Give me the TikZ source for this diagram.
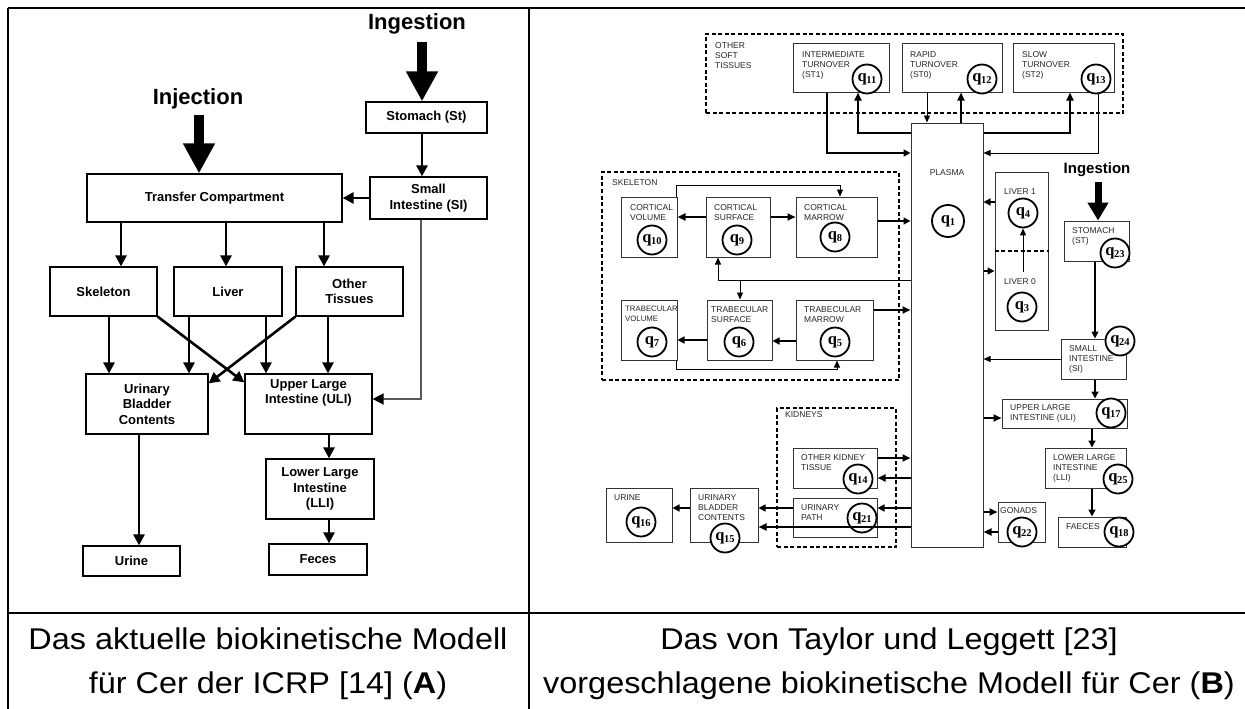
\documentclass[tikz,border=0pt]{standalone}
\usepackage{fontspec}
\setmainfont{Liberation Sans}
\newfontfamily\qfont{Liberation Serif}
\newfontfamily\capfont{Liberation Sans}[FakeStretch=1.08]
\usetikzlibrary{arrows.meta,calc}
\newcommand{\qlbl}[1]{{\qfont\bfseries\fontsize{16.5}{16.5}\selectfont q\kern-0.3pt\raisebox{-2.5pt}{\fontsize{10.5}{10.5}\selectfont #1}}}
\begin{document}
\begin{tikzpicture}[x=1pt,y=-1pt,
 abox/.style={draw, line width=1.2, inner sep=0, align=center, font=\fontsize{13}{15.5}\selectfont\bfseries},
 aarr/.style={line width=2.6, -{Triangle[length=11pt,width=11pt]}},
 agr/.style={line width=1.5, black!65, -{Triangle[length=11pt,width=11pt,color=black]}},
 bigA/.style={line width=10, -{Triangle[length=30pt,width=30pt]}},
 bigB/.style={line width=7, -{Triangle[length=18pt,width=20pt]}},
 ingA/.style={font=\fontsize{22}{22}\selectfont\bfseries, inner sep=0},
 ingB/.style={font=\fontsize{15}{15}\selectfont\bfseries, inner sep=0},
 bbox/.style={draw=black!80, line width=1, inner sep=0},
 grpframe/.style={draw, line width=1.4, dash pattern=on 4pt off 2.5pt, inner sep=0},
 btxt/.style={anchor=north west, inner sep=0, align=left, text=black!85, font=\fontsize{8.5}{10.2}\selectfont},
 bctr/.style={inner sep=0, text=black!85, font=\fontsize{8.5}{10.2}\selectfont},
 qc/.style={circle, draw, line width=1.8, fill=white, minimum size=29, inner sep=0},
 bth/.style={line width=0.9, -{Triangle[length=7pt,width=6pt]}},
 bmd/.style={line width=1.4, -{Triangle[length=7pt,width=7pt]}},
 btk/.style={line width=2.2, -{Triangle[length=8pt,width=7pt]}},
 captxt/.style={font=\capfont\fontsize{30}{30}\selectfont, inner sep=0, anchor=base}
]
\useasboundingbox (0,0) rectangle (1245,709);

% ---------- table ----------
\draw[line width=2] (8,8) -- (1245,8);
\draw[line width=2] (8,8) -- (8,709);
\draw[line width=2] (529,8) -- (529,709);
\draw[line width=2.6] (8,613) -- (1245,613);

% ---------- captions ----------
\node[captxt] (capA1) at (268,649) {Das aktuelle biokinetische Modell};
\node[captxt] (capA2) at (268,693) {für Cer der ICRP [14] (\textbf{A})};
\node[captxt] (capB1) at (889,649) {Das von Taylor und Leggett [23]};
\node[captxt] (capB2) at (889,693) {vorgeschlagene biokinetische Modell für Cer (\textbf{B})};

% =============== PANEL A ===============
\node[ingA] (ingAt) at (417,24) {Ingestion};
\node[ingA] (injAt) at (198,99) {Injection};
\coordinate (ingAs) at (422,42);
\coordinate (injAs) at (199,115);

\node[abox, minimum width=121, minimum height=31] (stA) at (426.5,117.5) {Stomach (St)};
\node[abox, minimum width=117, minimum height=42] (siA) at (428.5,198) {Small\\Intestine (SI)};
\node[abox, minimum width=255, minimum height=48] (tcA) at (214.5,198) {Transfer Compartment};
\node[abox, minimum width=107, minimum height=49] (skA) at (103.5,291.5) {Skeleton};
\node[abox, minimum width=108, minimum height=49] (lvA) at (228,291.5) {Liver};
\node[abox, minimum width=107, minimum height=49] (otA) at (349.5,291.5) {Other\\Tissues};
\node[abox, minimum width=122, minimum height=60] (ubA) at (147,404) {Urinary\\Bladder\\Contents};
\node[abox, minimum width=127, minimum height=60] (ulA) at (308.5,404) {Upper Large\\Intestine (ULI)\\[9pt]};
\node[abox, minimum width=108, minimum height=60] (llA) at (320,489) {Lower Large\\Intestine\\(LLI)};
\node[abox, minimum width=98, minimum height=31] (feA) at (318,559.5) {Feces};
\node[abox, minimum width=97, minimum height=30] (urA) at (131.5,561) {Urine};

\draw[bigA] (ingAs) -- (stA.north -| ingAs);
\draw[bigA] (injAs) -- (tcA.north -| injAs);
\draw[aarr] (stA.south -| ingAs) -- (siA.north -| ingAs);
\draw[aarr] (siA.west) -- (siA.west -| tcA.east);
\draw[aarr] (tcA.south -| 121,0) -- (skA.north -| 121,0);
\draw[aarr] (tcA.south -| 226,0) -- (lvA.north -| 226,0);
\draw[aarr] (tcA.south -| 324,0) -- (otA.north -| 324,0);
\draw[aarr] (skA.south -| 109,0) -- (ubA.north -| 109,0);
\draw[aarr] (lvA.south -| 189,0) -- (ubA.north -| 189,0);
\draw[aarr] (lvA.south -| 266,0) -- (ulA.north -| 266,0);
\draw[aarr] (otA.south -| 328,0) -- (ulA.north -| 328,0);
\draw[aarr] (skA.south east) -- ($(ulA.north west)+(0,9)$);
\draw[aarr] (otA.south west) -- ($(ubA.north east)+(0,10)$);
\draw[aarr] (ulA.south -| 329,0) -- (llA.north -| 329,0);
\draw[aarr] (llA.south -| 329,0) -- (feA.north -| 329,0);
\draw[aarr] (ubA.south -| 139,0) -- (urA.north -| 139,0);
\draw[agr] (siA.south -| 421,0) |- ([yshift=5]ulA.east);

% =============== PANEL B ===============
% frames
\node[grpframe, minimum width=417, minimum height=79] (fOST) at (914.5,73.5) {};
\node[grpframe, minimum width=297, minimum height=208] (fSK) at (750.5,276) {};
\node[grpframe, minimum width=119, minimum height=139] (fKI) at (836.5,477.5) {};
\node[btxt] (lOST) at (715,42) {OTHER\\SOFT\\TISSUES};
\node[btxt] (lSK) at (612,179) {SKELETON};
\node[btxt] (lKI) at (785,411) {KIDNEYS};

% boxes
\node[bbox, minimum width=96, minimum height=48] (st1) at (841,68) {};
\node[btxt] (st1t) at (802,51) {INTERMEDIATE\\TURNOVER\\(ST1)};
\node[bbox, minimum width=100, minimum height=48] (st0) at (952,68) {};
\node[btxt] (st0t) at (910,51) {RAPID\\TURNOVER\\(ST0)};
\node[bbox, minimum width=101, minimum height=48] (st2) at (1063.5,68) {};
\node[btxt] (st2t) at (1022,51) {SLOW\\TURNOVER\\(ST2)};

\node[bbox, minimum width=72, minimum height=424] (pl) at (947,335) {};
\node[bctr] (plt) at (947,173) {PLASMA};

\node[bbox, minimum width=56, minimum height=60] (cv) at (649,227) {};
\node[btxt] (cvt) at (630,204) {CORTICAL\\VOLUME};
\node[bbox, minimum width=64, minimum height=60] (cs) at (738,227) {};
\node[btxt] (cst) at (714,204) {CORTICAL\\SURFACE};
\node[bbox, minimum width=81, minimum height=60] (cm) at (836.5,227) {};
\node[btxt] (cmt) at (804,204) {CORTICAL\\MARROW};
\node[bbox, minimum width=56, minimum height=60] (tv) at (649,330) {};
\node[btxt, font=\fontsize{7.8}{10.2}\selectfont] (tvt) at (625,306) {TRABECULAR\\VOLUME};
\node[bbox, minimum width=65, minimum height=60] (ts) at (739.5,330) {};
\node[btxt] (tst) at (711,306) {TRABECULAR\\SURFACE};
\node[bbox, minimum width=77, minimum height=60] (tm) at (834.5,330) {};
\node[btxt] (tmt) at (804,306) {TRABECULAR\\MARROW};

\node[bbox, minimum width=53, minimum height=158] (lv) at (1021.5,251) {};
\draw[line width=1.2, dash pattern=on 4pt off 2.5pt] (lv.west) -- (lv.east);
\node[bctr] (lv1t) at (1020,192) {LIVER 1};
\node[bctr] (lv0t) at (1020,282) {LIVER 0};

\node[ingB] (ingBt) at (1097,170) {Ingestion};
\coordinate (ingBs) at (1098,182);
\node[bbox, minimum width=65, minimum height=40] (stB) at (1096.5,241) {};
\node[btxt] (stBt) at (1072,227) {STOMACH\\(ST)};
\node[bbox, minimum width=65, minimum height=40] (siB) at (1093.5,359) {};
\node[btxt] (siBt) at (1069,345) {SMALL\\INTESTINE\\(SI)};
\node[bbox, minimum width=125, minimum height=29] (ulB) at (1064.5,413.5) {};
\node[btxt] (ulBt) at (1010,404) {UPPER LARGE\\INTESTINE (ULI)};
\node[bbox, minimum width=81, minimum height=40] (llB) at (1085.5,468) {};
\node[btxt] (llBt) at (1053,454) {LOWER LARGE\\INTESTINE\\(LLI)};
\node[bbox, minimum width=68, minimum height=30] (fa) at (1092,532) {};
\node[btxt] (fat) at (1066,523) {FAECES};
\node[bbox, minimum width=47, minimum height=40] (go) at (1021.5,522) {};
\node[btxt] (got) at (1000,507) {GONADS};

\node[bbox, minimum width=84, minimum height=40] (okt) at (835,468) {};
\node[btxt] (oktt) at (801,454) {OTHER KIDNEY\\TISSUE};
\node[bbox, minimum width=84, minimum height=39] (up) at (835,517.5) {};
\node[btxt] (upt) at (801,504) {URINARY\\PATH};
\node[bbox, minimum width=68, minimum height=54] (ubc) at (724,515) {};
\node[btxt] (ubct) at (698,494) {URINARY\\BLADDER\\CONTENTS};
\node[bbox, minimum width=66, minimum height=54] (ur) at (639,515) {};
\node[btxt] (urt) at (614,494) {URINE};

% q circles
\node[qc, minimum size=32] (q1) at (948,221) {\qlbl{1}};
\node[qc] (q3) at (1022,307) {\qlbl{3}};
\node[qc] (q4) at (1023,213) {\qlbl{4}};
\node[qc] (q5) at (835,342) {\qlbl{5}};
\node[qc] (q6) at (739,342) {\qlbl{6}};
\node[qc] (q7) at (652,342) {\qlbl{7}};
\node[qc] (q8) at (835,237) {\qlbl{8}};
\node[qc] (q9) at (737,240) {\qlbl{9}};
\node[qc] (q10) at (652,240) {\qlbl{10}};
\node[qc] (q11) at (867,79) {\qlbl{11}};
\node[qc] (q12) at (982,79) {\qlbl{12}};
\node[qc] (q13) at (1096,79) {\qlbl{13}};
\node[qc] (q14) at (858,479) {\qlbl{14}};
\node[qc] (q15) at (725,538) {\qlbl{15}};
\node[qc] (q16) at (641,522) {\qlbl{16}};
\node[qc] (q17) at (1111,413) {\qlbl{17}};
\node[qc] (q18) at (1119,532) {\qlbl{18}};
\node[qc] (q21) at (862,518) {\qlbl{21}};
\node[qc] (q22) at (1022,532) {\qlbl{22}};
\node[qc] (q23) at (1115,253) {\qlbl{23}};
\node[qc] (q24) at (1120,341) {\qlbl{24}};
\node[qc] (q25) at (1118,479) {\qlbl{25}};

% connectors: other soft tissues
\draw[bmd] (st1.south -| 827,0) |- (pl.west |- 0,153);
\draw[btk] (pl.west |- 0,133) -| (st1.south -| 858,0);
\draw[bth] (st0.south -| 927,0) -- (pl.north -| 927,0);
\draw[btk] (pl.north -| 961,0) -- (st0.south -| 961,0);
\draw[btk] (pl.east |- 0,133) -| (st2.south -| 1070,0);
\draw[bth] (st2.south -| 1098,0) |- (pl.east |- 0,153);

% skeleton
\draw[btk] (cs.west |- 0,217) -- (cv.east |- 0,217);
\draw[btk] (cs.east |- 0,217) -- (cm.west |- 0,217);
\draw[bth] (cv.north -| 676,0) |- (840,185) -- (cm.north -| 840,0);
\draw[bmd] (cm.east |- 0,221) -- (pl.west |- 0,221);
\coordinate (brk) at (740,280);
\draw[bth] (pl.west |- 0,280) -| (cs.south -| 718,0);
\draw[bth] (brk) -- (ts.north -| brk);
\draw[bmd] (tm.west |- 0,341) -- (ts.east |- 0,341);
\draw[bmd] (ts.west |- 0,340) -- (tv.east |- 0,340);
\draw[bth] (tv.south -| 676,0) |- (837,369) -- (tm.south -| 837,0);
\draw[btk] (tm.east |- 0,310) -- (pl.west |- 0,310);

% liver
\draw[bmd] (lv.west |- 0,202) -- (pl.east |- 0,202);
\draw[bmd] (pl.east |- 0,271) -- (lv.west |- 0,271);
\draw[bth] (q4.south |- 0,272) -- (q4.south);

% GI tract
\draw[bigB] (ingBs) -- (stB.north -| ingBs);
\draw[bmd] (stB.south -| 1095,0) -- (siB.north -| 1095,0);
\draw[bth] (siB.west) -- (siB.west -| pl.east);
\draw[bmd] (siB.south -| 1095,0) -- (ulB.north -| 1095,0);
\draw[btk] (pl.east |- 0,418) -- (ulB.west |- 0,418);
\draw[bmd] (ulB.south -| 1092,0) -- (llB.north -| 1092,0);
\draw[bmd] (llB.south -| 1092,0) -- (fa.north -| 1092,0);
\draw[btk] (pl.east |- 0,512) -- (go.west |- 0,512);
\draw[btk] (go.west |- 0,532) -- (pl.east |- 0,532);

% kidneys and urine
\draw[btk] (okt.east |- 0,458) -- (pl.west |- 0,458);
\draw[btk] (pl.west |- 0,478) -- (okt.east |- 0,478);
\draw[bmd] (pl.west |- 0,508) -- (up.east |- 0,508);
\draw[bmd] (up.west |- 0,508) -- (ubc.east |- 0,508);
\draw[btk] (pl.west |- 0,527) -- (ubc.east |- 0,527);
\draw[bmd] (ubc.west |- 0,508) -- (ur.east |- 0,508);
\end{tikzpicture}
\end{document}
